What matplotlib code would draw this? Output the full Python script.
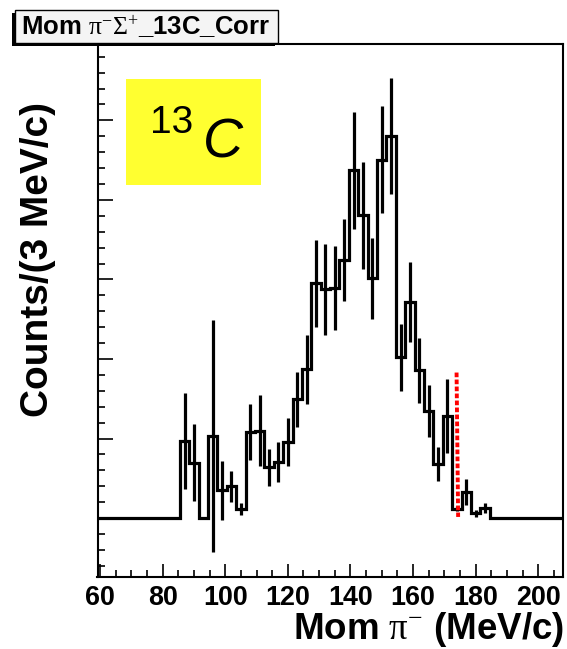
import numpy as np
import matplotlib
matplotlib.use("Agg")
import matplotlib.pyplot as plt
from matplotlib.patches import Rectangle

plt.rcParams["font.family"] = ["Liberation Sans", "DejaVu Sans"]
plt.rcParams["mathtext.fontset"] = "custom"
plt.rcParams["mathtext.rm"] = "Liberation Serif"
plt.rcParams["mathtext.it"] = "Liberation Serif:italic"
plt.rcParams["mathtext.bf"] = "Liberation Serif:bold"

# pi- momentum spectrum, 3 MeV/c bins, corrected counts
bin_width = 3.0
first_edge = 58.5
n_bins = 50
first_filled = 9  # index of the bin starting at 85.5 MeV/c

counts_filled = [19.4, 13.9, 0.0, 20.6, 7.0, 8.0, 2.4, 21.7, 22.0, 12.8,
                 14.2, 19.2, 29.9, 37.4, 59.0, 57.5, 57.9, 64.9, 87.5, 76.1,
                 60.3, 90.1, 96.1, 40.4, 54.3, 37.2, 26.9, 13.6, 25.7, 2.4,
                 6.6, 1.2, 2.6]
errors_filled = [12.0, 9.7, 0.0, 29.2, 7.4, 3.9, 1.5, 7.1, 9.0, 4.7,
                 5.0, 6.0, 6.9, 8.6, 11.0, 11.5, 10.5, 10.4, 14.7, 13.5,
                 10.2, 13.5, 14.5, 8.5, 10.0, 8.2, 6.6, 4.2, 9.2, 0.6,
                 3.2, 0.8, 1.3]

# momentum cut marker
cut_x = [173.9, 174.4]
cut_y = [36.6, 0.3]

edges = first_edge + bin_width * np.arange(n_bins + 1)
centers = 0.5 * (edges[:-1] + edges[1:])
counts = np.zeros(n_bins)
errors = np.zeros(n_bins)
counts[first_filled:first_filled + len(counts_filled)] = counts_filled
errors[first_filled:first_filled + len(errors_filled)] = errors_filled

W, H = 567, 649


def fx(px):
    return px / W


def fy(py):
    return 1 - py / H


fig = plt.figure(figsize=(W / 100, H / 100), dpi=100)
ax = fig.add_axes([fx(97.5), fy(577), 465.5 / W, 533 / H])

ax.stairs(counts, edges, baseline=None, color="black", linewidth=2.3)
has_err = errors > 0
ax.errorbar(centers[has_err], counts[has_err], yerr=errors[has_err],
            fmt="none", ecolor="black", elinewidth=2.3, capsize=0)
ax.plot(cut_x, cut_y, color="red", linewidth=2.8,
        linestyle=(0, (1.2, 0.6)), solid_capstyle="butt")

ax.set_xlim(59.2, 207.9)
ax.set_ylim(-14.8, 119.2)

ax.set_xticks(np.arange(60, 201, 20))
ax.set_xticks(np.arange(60, 208, 5), minor=True)
ax.set_yticks(np.arange(0, 120, 20))
ax.set_yticks(np.arange(-12, 119, 4), minor=True)
ax.tick_params(axis="both", which="both", direction="in", width=1.2,
               top=False, right=False)
ax.tick_params(axis="x", which="major", length=9.4, pad=6)
ax.tick_params(axis="x", which="minor", length=5)
ax.tick_params(axis="y", which="major", length=10.8)
ax.tick_params(axis="y", which="minor", length=5)
ax.tick_params(axis="y", labelleft=False)
for lab in ax.get_xticklabels():
    lab.set_fontsize(19.4)
    lab.set_fontweight("bold")

for sp in ax.spines.values():
    sp.set_linewidth(1.5)

fig.text(fx(38), fy(259), "Counts/(3 MeV/c)", rotation=90, ha="center",
         va="center", fontsize=28, fontweight="bold")
fig.text(fx(564), fy(639), r"Mom $\mathrm{\pi}^{-}$ (MeV/c)", ha="right",
         va="baseline", fontsize=26.5, fontweight="bold")

# histogram title box with shadow
fig.add_artist(Rectangle((fx(12), fy(46)), 263 / W, 33 / H,
                         transform=fig.transFigure, facecolor="black",
                         edgecolor="none", zorder=5))
fig.add_artist(Rectangle((fx(15), fy(43)), 263 / W, 33 / H,
                         transform=fig.transFigure, facecolor="#f4f4f4",
                         edgecolor="black", linewidth=1.0, zorder=6))
fig.text(fx(146), fy(27), r"Mom $\mathrm{\pi}^{-}\mathrm{\Sigma}^{+}$_13C_Corr",
         ha="center", va="center", fontsize=18.5, fontweight="bold", zorder=7)

# target label
fig.add_artist(Rectangle((fx(126), fy(185)), 135 / W, 106 / H,
                         transform=fig.transFigure, facecolor="#ffff30",
                         edgecolor="none", zorder=5))
fig.text(fx(150), fy(133), "13", ha="left", va="baseline", fontsize=28,
         zorder=6)
fig.text(fx(203), fy(157), "C", ha="left", va="baseline", fontsize=40,
         fontstyle="italic", zorder=6)

fig.savefig("out.png", dpi=100)
